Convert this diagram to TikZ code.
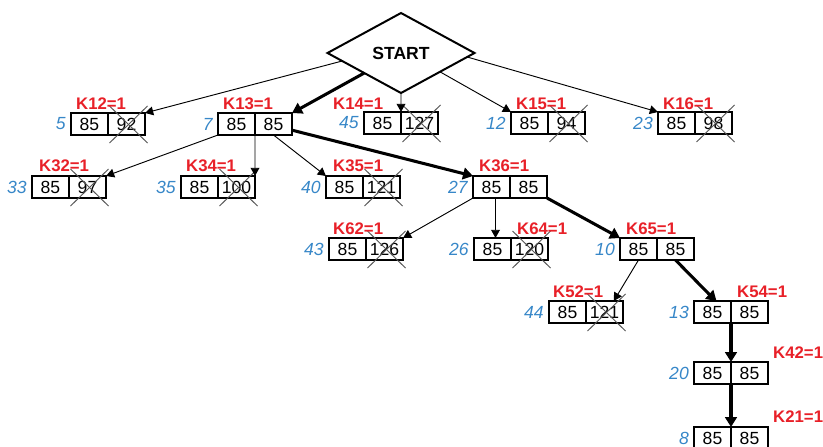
\documentclass[tikz,border=0pt]{standalone}
\usepackage{fontspec}
\setmainfont{Liberation Sans}
\usetikzlibrary{shapes.geometric,arrows.meta,calc}
\definecolor{kred}{RGB}{232,32,40}
\definecolor{kblue}{RGB}{55,135,200}
\definecolor{kgray}{RGB}{85,85,85}
\tikzset{
  cell/.style={draw, line width=1.6pt, minimum width=1.11cm, minimum height=0.66cm,
    inner sep=0pt, outer sep=0pt, font=\fontsize{15}{17}\selectfont},
  idx/.style={text=kblue, inner sep=0pt, font=\fontsize{15}{17}\selectfont\itshape},
  klab/.style={text=kred, inner sep=0pt, anchor=west, font=\fontsize{14.3}{16}\selectfont\bfseries},
  xmark/.style={draw=kgray, line width=0.8pt},
  thin/.style={line width=0.8pt, -{Triangle[length=7pt,width=7.5pt]}},
  thick/.style={line width=2.6pt, -{Triangle[length=8.5pt,width=10pt]}},
  startbox/.style={diamond, draw, line width=1.7pt, minimum width=4.41cm, minimum height=2.4cm,
    inner sep=0pt, outer sep=0pt, font=\fontsize{15}{17}\selectfont\bfseries}
}
\newcommand{\kbox}[5]{%
  \node[cell, anchor=north west] (#1l) at (#2,#3) {85};
  \node[cell, anchor=west] (#1r) at (#1l.east) {#5};
  \node[idx, anchor=east] (#1i) at ($(#1l.west)+(-5,0)$) {#4};
}
\newcommand{\kcross}[1]{%
  \draw[xmark] ($(#1r.center)+(-17,-18)$) -- ($(#1r.center)+(21,19)$);
  \draw[xmark] ($(#1r.center)+(21,-18)$) -- ($(#1r.center)+(-17,19)$);
}
\begin{document}
\begin{tikzpicture}[x=0.03cm, y=-0.03cm]
\useasboundingbox (0,0) rectangle (823,446);

\node[startbox] (s) at (401,53) {START};

% row 1
\kbox{k12}{71}{113}{5}{92}
\kbox{k13}{218}{113}{7}{85}
\kbox{k14}{364}{112}{45}{127}
\kbox{k15}{511}{112}{12}{94}
\kbox{k16}{658}{112}{23}{98}
% row 2
\kbox{k32}{32}{176}{33}{97}
\kbox{k34}{181}{176}{35}{100}
\kbox{k35}{326}{176}{40}{121}
\kbox{k36}{473}{176}{27}{85}
% row 3
\kbox{k62}{329}{238}{43}{126}
\kbox{k64}{474}{238}{26}{120}
\kbox{k65}{620}{238}{10}{85}
% row 4
\kbox{k52}{549}{301}{44}{121}
\kbox{k54}{694}{301}{13}{85}
% lower
\kbox{k42}{694}{362}{20}{85}
\kbox{k21}{694}{427}{8}{85}

% crosses
\kcross{k12}\kcross{k14}\kcross{k15}\kcross{k16}
\kcross{k32}\kcross{k34}\kcross{k35}
\kcross{k62}\kcross{k64}\kcross{k52}

% labels
\node[klab] (l12) at (76,104) {K12=1};
\node[klab] (l13) at (223,104) {K13=1};
\node[klab] (l14) at (333,104) {K14=1};
\node[klab] (l15) at (516,104) {K15=1};
\node[klab] (l16) at (663,104) {K16=1};
\node[klab] (l32) at (39,166) {K32=1};
\node[klab] (l34) at (186,166) {K34=1};
\node[klab] (l35) at (333,166) {K35=1};
\node[klab] (l36) at (479,166) {K36=1};
\node[klab] (l62) at (333,229) {K62=1};
\node[klab] (l64) at (517,229) {K64=1};
\node[klab] (l65) at (626,229) {K65=1};
\node[klab] (l52) at (553,292) {K52=1};
\node[klab] (l54) at (737,292) {K54=1};
\node[klab] (l42) at (773,353) {K42=1};
\node[klab] (l21) at (773,417) {K21=1};

% connectors from START
\draw[thin] ($(s.west)!0.2!(s.south)$) -- (k12r.north east);
\draw[thick] ($(s.west)!0.5!(s.south)$) -- (k13r.north east);
\draw[thin] (s.south) -- (k14l.north east);
\draw[thin] ($(s.east)!0.47!(s.south)$) -- (k15l.north west);
\draw[thin] ($(s.east)!0.1!(s.south)$) -- (k16l.north west);
% from K13
\draw[thin] (k13l.south west) -- (k32r.north east);
\draw[thin] (k13l.south east) -- (k34r.north east);
\draw[thin] (k13r.south) -- (k35l.north west);
\draw[thick] ($(k13r.north east)!0.78!(k13r.south east)$) -- (k36l.north west);
% from K36
\draw[thin] (k36l.south west) -- (k62r.north east);
\coordinate (c64) at ($(k36l.south)+(4,0)$);
\draw[thin] (c64) -- (c64 |- k64l.north);
\draw[thick] (k36r.south east) -- (k65l.north west);
% from K65
\draw[thin] (k65l.south) -- ($(k52r.north)!0.5!(k52r.north east)$);
\draw[thick] (k65r.south) -- ($(k54l.north)+(4,0)$);
% chain
\draw[thick] (k54l.south east) -- (k42l.north east);
\draw[thick] (k42l.south east) -- (k21l.north east);
\end{tikzpicture}
\end{document}
